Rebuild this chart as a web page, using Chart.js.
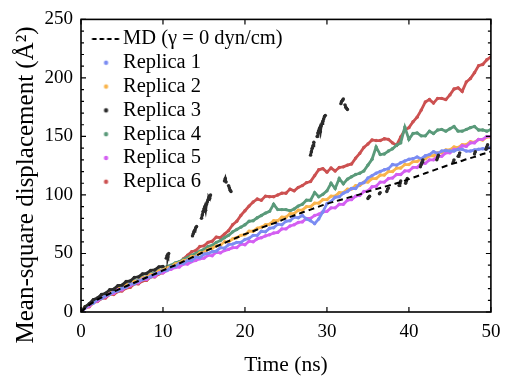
<!DOCTYPE html>
<html><head><meta charset="utf-8">
<script src="https://cdn.jsdelivr.net/npm/chart.js@4.4.1/dist/chart.umd.min.js"></script>
<style>html,body{margin:0;padding:0;background:#fff;}#wrap{width:509px;height:378px;position:relative;}</style>
</head><body><div id="wrap"><canvas id="c"></canvas></div>
<script>
// ---------- data ----------
const xTickLabels = [0, 10, 20, 30, 40, 50];
const yTickLabels = [0, 50, 100, 150, 200, 250];
const seriesNames = ['MD (γ = 0 dyn/cm)', 'Replica 1', 'Replica 2', 'Replica 3', 'Replica 4', 'Replica 5', 'Replica 6'];

const mdTime = [0,1,2,3,4,5,6,7,8,9,10,11,12,13,14,15,16,17,18,19,20,21,22,23,24,25,26,27,28,29,30,31,32,33,34,35,36,37,38,39,40,41,42,43,44,45,46,47,48,49,50];
const mdValues = [0,6,10.5,14,17.5,20.5,23.5,26.5,29.5,32.5,35.5,38.5,41.5,45,48,51.5,54.5,57.5,60.5,63.5,66.5,69,72,74.5,77,80,82.5,85,87.5,90,92.5,94.5,96.5,98.5,100.5,103,105,107,109,111,113.5,116,118.5,121,123.5,126,128,130.5,132.5,135,137];

const time = [0,0.5,1,1.5,2,2.5,3,3.5,4,4.5,5,5.5,6,6.5,7,7.5,8,8.5,9,9.5,10,10.5,11,11.5,12,12.5,13,13.5,14,14.5,15,15.5,16,16.5,17,17.5,18,18.5,19,19.5,20,20.5,21,21.5,22,22.5,23,23.5,24,24.5,25,25.5,26,26.5,27,27.5,28,28.5,29,29.5,30,30.5,31,31.5,32,32.5,33,33.5,34,34.5,35,35.5,36,36.5,37,37.5,38,38.5,39,39.5,40,40.5,41,41.5,42,42.5,43,43.5,44,44.5,45,45.5,46,46.5,47,47.5,48,48.5,49,49.5,50];

const replica1 = [0,3.5,6.5,7.5,11,11.5,14,15,17.5,18,
 20.5,21,24,24,26.5,27.5,29.5,30,32.5,33,
 35.5,35.5,38.5,39,41.5,41.5,44,44,47,46.5,
 49.5,50,51.5,52,55,54.5,57.5,58,59.5,59.5,
 62,63,65.5,65.5,69,68.5,71.5,72,75,74.5,
 77.5,78,81,80.5,82.5,79.5,78,75.5,79.5,85.5,
 92.5,94.5,98,98.5,101.5,103,105.5,105.5,109.5,110.5,
 114.5,116.5,118.5,120,121.5,122.5,126,125.5,127.5,129,
 130.5,131,132.5,131,133.5,134.5,137,135.5,137.5,138,
 137.5,137.5,139,139,137.5,137.5,138.5,139,139.5,139.5,
 141];

const replica2 = [0,4.5,6,10,10.5,13.5,14,17,18,20,
 20.5,23,24,26,26.5,29,30,32,32.5,35,
 36,38,38.5,41,42,44,44.5,47.5,47.5,50.5,
 51,53.5,54.5,56.5,57,60,60,62.5,63.5,65.5,
 66,69,69,71.5,72.5,74.5,75,78,78,81,
 81,84,84,87,87,90,90,93,93,96,
 96,99,99,102,102,105,105,108,108,111,
 111,114,114,117,117,120,120,123,123,126,
 126,128.5,128.5,131,131,133.5,133.5,136,136,138.5,
 138.5,141,140.5,143,143,145.5,145,147.5,147,149.5,
 149.5];

const replica3Time = [0,0.5,1,1.5,2,2.5,3,3.5,4,4.5,5,5.5,6,6.5,7,7.5,8,8.5,9,9.5,10,
 10.2, 10.4,10.5,10.6,10.7,
 12, 13.6,13.7,13.8,13.9,14.0,14.1,
 14.4, 14.7,14.8,14.9,15.0,15.1,15.2,15.3,15.4,15.5,15.6,15.7,15.8,
 16.5, 17.5,17.6,17.7,
 17.9, 18.0,18.1,18.2,18.3,
 20, 28.0,28.1,28.2,28.3,28.4,
 28.6, 28.8,28.9,29.0,29.1,29.2,29.3,29.4,29.5,29.6,29.7,29.8,
 31, 31.7,31.8,31.9,32.0,
 32.1, 32.2,32.3,32.4,32.5,
 34, 35.0,35.1,35.2,
 36, 36.4,36.5,
 37, 37.3,37.4,37.5,
 38, 38.8,38.9,39.0,
 39.3, 39.6,39.7,39.8,
 40.5, 41.4,41.5,41.6,41.7,
 42.5, 43.4,43.5,43.6,
 44.5, 45.4,45.5,
 45.8, 46.0,46.1,46.2,
 47, 48.0,48.1,
 49, 49.4,49.5,49.6];
const replica3 = [0,4.5,7,10.5,12,15,16,19,19.5,22.5,23,26,26.5,29.5,30,32.5,33,35.5,36,38.5,39,
 null, 46,48,47,50,
 null, 65,67,69,70,72,73,
 null, 80,83,86,88,90,87,92,94,96,98,97,100,
 null, 112,114,111,
 null, 108,106,104,103,
 null, 134,137,140,142,145,
 null, 150,153,155,157,154,159,161,163,165,167,168,
 null, 178,180,181,182,
 null, 177,175,174,173,
 null, 97,98,99,
 null, 101,102,
 null, 103,105,106,
 null, 108,110,112,
 null, 110,112,114,
 null, 124,126,128,130,
 null, 130,132,134,
 null, 128,130,
 null, 133,134,136,
 null, 135,137,
 null, 139,141,143];

const replica4 = [0,4.5,6.5,10,11,14,15,17.5,18,21,
 21,23.5,24.5,26.5,27,30,30,32.5,33.5,35.5,
 36.5,39,40,42,43,45,46.5,48.5,50,52,
 53.5,56,57,59.5,61,63.5,65.5,68.5,70.5,72.5,
 74.5,77.5,78,80.5,82.5,84.5,86,92,87.5,87.5,
 87.5,86.5,88,90.5,92,95.5,95.5,102,98.5,100.5,
 103.5,110,105.5,114,109.5,113.5,115.5,117.5,118.5,120.5,
 125.5,130.5,141,134.5,135,137.5,139.5,142.5,144.5,158,
 147.5,152.5,153,150.5,150.5,154.5,152.5,155.5,156,154.5,
 156.5,158.5,154.5,154.5,156,157.5,158.5,155.5,155.5,154.5,
 156];

const replica5 = [0,3.5,5,8.5,9.5,12,13,15.5,16,19,
 19,21.5,22.5,24.5,25,28,28,30.5,30.5,33.5,
 33.5,35.5,36.5,38,38.5,41,41,43,44,45.5,
 46,48.5,48,51,50.5,52.5,53.5,55,55,58,
 57.5,60.5,60,62.5,63.5,65,66,67.5,68,71,
 71,73.5,74.5,76.5,77,80,80,82.5,83.5,85.5,
 86,89,89,92,92,95.5,96,99,99.5,103,
 103.5,107,107.5,111,111,114,114.5,117.5,117.5,120.5,
 120.5,123.5,123.5,127,127,130,130,133,133,136,
 136,139,139,142,141.5,144.5,144.5,147.5,147.5,150,
 150];

const replica6 = [0,3.5,4.5,8,9,11.5,12,15,15,17.5,
 18,20.5,21,24,24,26.5,27,30,30,32.5,
 33.5,36,37,39.5,41.5,45.5,48.5,51.5,52.5,56,
 56.5,59.5,60.5,64,63.5,66.5,69.5,74.5,77.5,82.5,
 86.5,90.5,94,96.5,95.5,99,98.5,98.5,100,101.5,
 101.5,105,103.5,106.5,108,110.5,111.5,116.5,121.5,122.5,
 119.5,123,120.5,123.5,124,125.5,126.5,131.5,135.5,140.5,
 143.5,147,146.5,146.5,148,147.5,144.5,142.5,149.5,155.5,
 157.5,162.5,166.5,172.5,179.5,181.5,178.5,182.5,182.5,181.5,
 185.5,190.5,191.5,188.5,196.5,199.5,204.5,210.5,211.5,215.5,
 218];

// ---------- styling ----------
const FONT = '"Liberation Serif", "Times New Roman", serif';
const colors = ['#000000', '#7b8cf2', '#f9b44c', '#2b2b2b', '#5a9a7a', '#d45ff2', '#cc5151'];

function pts(xs, ys) { return xs.map((t, i) => ({x: t, y: ys[i]})); }

const SYM_W = 50, SYM_H = 8, SYM_CX = 32.5;
function dotSymbol(color) {
  const c = document.createElement('canvas'); c.width = SYM_W; c.height = SYM_H;
  const g = c.getContext('2d'); g.fillStyle = color;
  g.beginPath(); g.arc(SYM_CX, SYM_H / 2, 2.2, 0, Math.PI * 2); g.fill();
  return c;
}
function dashSymbol(color) {
  const c = document.createElement('canvas'); c.width = SYM_W; c.height = SYM_H;
  const g = c.getContext('2d'); g.strokeStyle = color; g.lineWidth = 2;
  g.setLineDash([4.5, 3]);
  g.beginPath(); g.moveTo(SYM_CX - 14, SYM_H / 2); g.lineTo(SYM_CX + 14, SYM_H / 2); g.stroke();
  return c;
}

function scatterSet(i, xs, ys, order) {
  return {
    label: seriesNames[i], data: pts(xs, ys), showLine: true,
    borderColor: colors[i], backgroundColor: colors[i], borderWidth: 2.8,
    pointRadius: 1.7, pointBorderWidth: 0, pointHoverRadius: 1.7, order: order, spanGaps: false
  };
}

const datasets = [
  { label: seriesNames[0], data: pts(mdTime, mdValues), showLine: true, borderColor: '#000',
    backgroundColor: '#000', borderWidth: 2, borderDash: [6, 4], pointRadius: 0, tension: 0.3, order: 0 },
  scatterSet(1, time, replica1, 2),
  scatterSet(2, time, replica2, 4),
  scatterSet(3, replica3Time, replica3, 1),
  scatterSet(4, time, replica4, 5),
  scatterSet(5, time, replica5, 3),
  scatterSet(6, time, replica6, 6)
];

const framePlugin = {
  id: 'frame',
  afterDraw(chart) {
    const {ctx, chartArea: a, scales: {x, y}} = chart;
    ctx.save();
    ctx.strokeStyle = '#000';
    ctx.lineWidth = 1.6;
    ctx.strokeRect(a.left, a.top, a.right - a.left, a.bottom - a.top);
    ctx.lineWidth = 1.2;
    ctx.beginPath();
    xTickLabels.forEach(v => {
      const px = x.getPixelForValue(v);
      ctx.moveTo(px, a.bottom); ctx.lineTo(px, a.bottom - 5);
      ctx.moveTo(px, a.top); ctx.lineTo(px, a.top + 5);
    });
    for (let v = 0; v <= 250; v += 10) {
      const py = y.getPixelForValue(v);
      const len = yTickLabels.includes(v) ? 5 : 3;
      ctx.moveTo(a.left, py); ctx.lineTo(a.left + len, py);
      ctx.moveTo(a.right, py); ctx.lineTo(a.right - len, py);
    }
    ctx.stroke();
    ctx.fillStyle = '#000';
    ctx.font = '25px ' + FONT;
    ctx.textAlign = 'center';
    ctx.textBaseline = 'middle';
    ctx.translate(26, 185);
    ctx.rotate(-Math.PI / 2);
    ctx.fillText('Mean-square displacement (Å²)', 0, 0);
    ctx.restore();
  }
};

Chart.defaults.font.family = FONT;
Chart.defaults.color = '#000';

new Chart(document.getElementById('c'), {
  type: 'scatter',
  data: { datasets },
  plugins: [framePlugin],
  options: {
    responsive: true, maintainAspectRatio: false, animation: false, events: [],
    layout: { padding: { top: 14, right: 12, left: 0, bottom: 0 } },
    scales: {
      x: {
        type: 'linear', min: 0, max: 50,
        afterFit: s => { s.height = 66; },
        afterBuildTicks: s => { s.ticks = xTickLabels.map(v => ({value: v})); },
        grid: { display: false, drawTicks: false }, border: { display: false },
        ticks: { font: { size: 19 }, color: '#000', padding: 8.6, maxRotation: 0 },
        title: { display: true, text: 'Time (ns)', font: { size: 21.5 }, color: '#000', padding: { top: 0, bottom: 0 } }
      },
      y: {
        type: 'linear', min: 0, max: 250,
        afterFit: s => { s.width = 81; },
        afterBuildTicks: s => { s.ticks = yTickLabels.map(v => ({value: v})); },
        grid: { display: false, drawTicks: false }, border: { display: false },
        ticks: { font: { size: 19 }, color: '#000', padding: 8 }
      }
    },
    plugins: {
      tooltip: { enabled: false },
      legend: {
        position: 'chartArea', align: 'start',
        title: { display: true, text: ' ', font: { size: 6 }, padding: { top: 1.6, bottom: 16.6 } },
        labels: {
          usePointStyle: true, pointStyleWidth: 28.5, padding: 3.3,
          font: { size: 20.5 }, color: '#000',
          generateLabels: chart => chart.data.datasets.map((ds, i) => ({
            text: ds.label, datasetIndex: i, hidden: false, lineWidth: 0,
            fillStyle: ds.borderColor, strokeStyle: ds.borderColor, fontColor: '#000',
            pointStyle: i === 0 ? dashSymbol('#000') : dotSymbol(ds.borderColor)
          }))
        }
      }
    }
  }
});
</script>
</body></html>
